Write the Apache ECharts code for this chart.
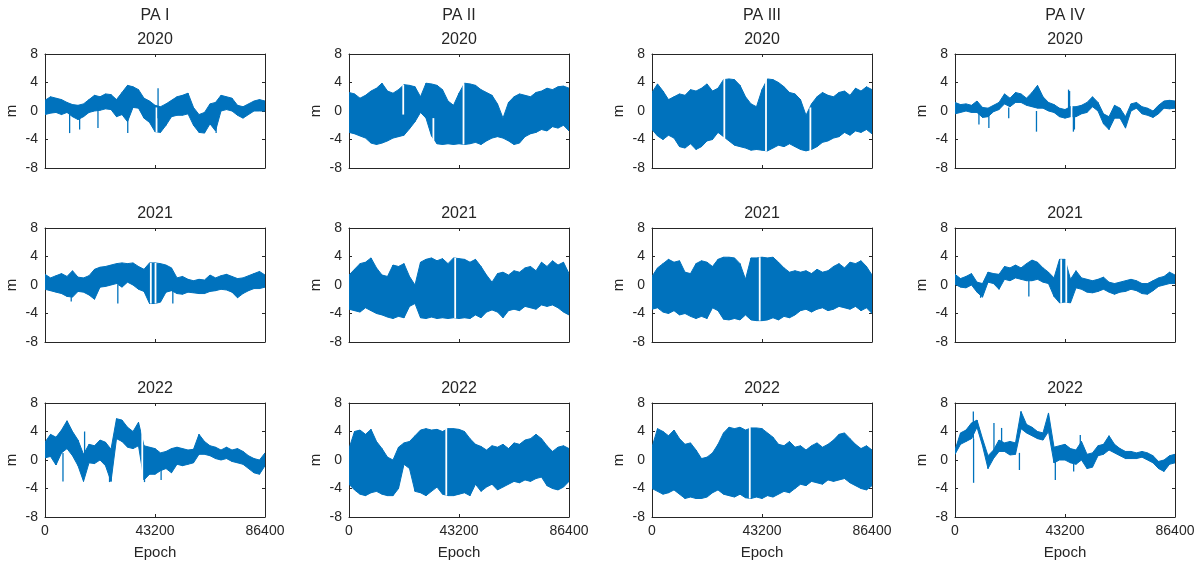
<!DOCTYPE html>
<html>
<head>
<meta charset="utf-8">
<title>PA residuals</title>
<script src="https://cdn.jsdelivr.net/npm/echarts@6/dist/echarts.min.js"></script>
<style>
  html, body { margin: 0; padding: 0; background: #fff; }
  #main { width: 1204px; height: 568px; }
</style>
</head>
<body>
<div id="main"></div>
<script>
// column / row headers and ticks
const paNames = ["PA I", "PA II", "PA III", "PA IV"];
const years = ["2020", "2021", "2022"];
const xTicks = [0, 43200, 86400];
const yTicks = [-8, -4, 0, 4, 8];
const STEP = 2160; // seconds between envelope samples (41 samples over a day)

// upper / lower envelope of the band
const pa1_2020_hi = [1.5,2.0,1.8,1.6,1.2,0.9,0.8,1.0,1.6,2.2, 2.0,2.4,2.3,1.6,2.6,3.6,3.4,3.0,1.8,1.4, 0.8,0.6,1.0,1.5,2.0,2.2,2.5,0.5,-0.5,-0.2, 1.0,1.2,2.2,2.0,1.8,0.8,0.6,1.0,1.4,1.6, 1.4];
const pa1_2020_lo = [-0.5,-0.3,-0.2,-0.5,-0.2,-0.8,-1.2,-0.8,-0.2,0.0, 0.1,0.3,0.2,-0.8,-0.5,-1.5,0.5,0.4,-1.0,-1.6, -2.9,-3.0,-2.0,-0.8,-0.6,-0.6,-0.4,-2.0,-3.0,-3.1, -1.8,-2.8,0.0,0.2,0.0,-0.6,-1.0,-0.5,0.0,0.0, 0.0];
const pa2_2020_hi = [2.6,2.4,1.8,2.2,2.8,3.2,3.9,2.8,2.5,3.0, 3.7,3.6,3.4,2.0,3.9,3.8,3.6,3.0,1.4,0.8, 2.5,3.9,3.8,3.6,3.0,2.6,2.2,1.0,-1.0,1.2, 2.0,2.4,2.2,2.0,2.6,2.8,3.2,3.0,3.4,3.5, 3.2];
const pa2_2020_lo = [-3.0,-3.2,-3.5,-3.8,-4.5,-4.7,-4.5,-4.2,-3.8,-3.6, -3.4,-2.5,-1.5,-0.2,-1.0,-3.5,-4.6,-4.7,-4.6,-4.7, -4.6,-4.7,-4.6,-4.4,-4.7,-4.2,-3.8,-3.6,-3.8,-4.2, -4.7,-4.5,-3.6,-3.2,-3.0,-2.6,-2.8,-2.2,-2.4,-2.0, -2.8];
const pa3_2020_hi = [2.6,3.8,2.8,1.6,2.0,2.4,2.2,3.0,2.8,3.2, 3.8,2.8,3.2,4.4,4.5,4.4,3.6,2.0,1.0,0.6, 3.0,4.5,4.4,4.0,3.4,2.6,2.4,1.6,-0.6,1.0, 2.0,2.6,2.2,2.0,2.6,2.8,2.2,3.2,2.8,3.4, 3.0];
const pa3_2020_lo = [-2.6,-3.5,-4.0,-3.4,-3.8,-5.0,-5.2,-4.6,-5.4,-5.0, -4.2,-4.0,-3.0,-3.6,-4.2,-4.8,-5.0,-5.2,-5.5,-5.4, -5.5,-5.6,-5.2,-4.8,-5.0,-4.6,-5.0,-5.4,-5.6,-5.4, -5.0,-4.4,-4.2,-3.8,-3.6,-3.0,-3.4,-2.8,-3.0,-2.6, -3.2];
const pa4_2020_hi = [1.2,0.9,1.0,0.8,1.4,0.5,0.4,0.8,1.2,2.4, 1.8,2.6,2.4,1.8,2.6,3.6,2.0,1.2,0.9,0.4, 0.2,0.6,0.6,0.8,1.2,2.0,1.2,-0.4,-0.8,0.8, 0.4,-0.8,1.0,1.2,0.6,0.4,0.0,0.8,1.4,1.5, 1.4];
const pa4_2020_lo = [-0.4,-0.2,0.0,-0.2,-0.2,-0.9,-0.8,-0.1,0.2,1.0, 0.6,1.2,1.2,0.8,0.6,0.4,0.4,0.0,-0.2,-0.8, -1.0,-0.8,-0.8,-0.4,-0.2,0.6,0.0,-1.8,-2.6,-1.0, -1.0,-2.4,0.0,0.4,-0.4,-0.6,-0.9,-0.4,0.4,0.3, 0.4];

const pa1_2021_hi = [1.5,1.0,1.3,1.6,1.2,2.0,1.1,1.0,1.3,2.2, 2.5,2.6,2.8,3.0,3.1,3.0,3.1,2.6,2.2,3.1, 3.1,3.0,2.8,2.4,1.0,1.2,0.8,0.6,0.8,0.7, 1.4,1.0,1.3,1.5,1.2,0.9,1.0,1.3,1.6,1.9, 1.4];
const pa1_2021_lo = [-0.6,-0.8,-1.0,-1.2,-1.6,-1.7,-0.9,-1.0,-1.4,-2.0, -0.3,-0.2,0.0,0.2,-0.3,0.4,0.0,-0.6,-0.9,-2.6, -2.6,-2.4,-1.0,-0.8,-1.2,-1.3,-1.0,-1.1,-1.2,-1.2, -0.9,-0.8,-0.6,-0.7,-1.0,-1.8,-1.2,-0.8,-0.5,-0.5, -0.3];
const pa2_2021_hi = [1.4,2.2,3.0,3.2,3.8,2.4,1.4,1.2,2.8,2.6, 3.0,1.2,0.0,3.2,3.6,3.8,3.4,3.7,3.0,3.8, 3.7,3.6,3.2,3.6,2.6,1.4,0.4,1.6,1.8,1.4, 2.0,1.8,2.4,2.6,2.0,3.2,2.6,3.4,2.8,3.2, 1.6];
const pa2_2021_lo = [-3.4,-3.6,-3.8,-3.2,-3.6,-4.0,-4.2,-4.5,-4.7,-4.4, -4.6,-3.0,-2.6,-4.6,-4.7,-4.5,-4.7,-4.6,-4.7,-4.6, -4.7,-4.6,-4.7,-4.2,-4.6,-3.8,-3.5,-3.8,-4.6,-3.6, -3.4,-3.6,-3.0,-3.2,-3.4,-2.8,-3.0,-2.8,-3.2,-3.8, -4.2];
const pa3_2021_hi = [1.2,2.4,3.0,3.6,3.2,3.4,1.8,1.6,3.0,3.4, 3.2,2.6,3.6,3.9,3.9,3.8,3.0,0.8,3.8,3.8, 3.9,3.8,3.9,3.2,2.4,1.8,2.0,1.8,2.0,1.6, 2.2,1.8,2.0,2.6,3.0,2.4,3.2,3.0,3.4,2.6, 1.4];
const pa3_2021_lo = [-3.4,-3.2,-3.8,-4.0,-3.6,-4.2,-4.0,-4.4,-4.7,-4.4, -4.7,-3.2,-3.6,-4.8,-4.9,-4.7,-4.9,-4.2,-4.9,-5.0, -5.0,-4.9,-4.6,-4.9,-4.4,-4.6,-4.2,-3.6,-3.4,-3.8, -3.4,-3.2,-3.6,-3.4,-3.0,-3.2,-3.4,-3.0,-3.6,-3.2, -4.0];
const pa4_2021_hi = [1.5,0.9,1.2,1.6,0.4,0.2,1.8,1.6,1.5,2.6, 2.4,2.8,2.4,3.0,3.5,3.2,2.4,1.8,1.0,3.6, 3.6,0.8,2.0,1.0,0.8,0.6,0.8,1.1,0.4,0.2, 0.4,0.6,0.8,0.6,0.2,0.2,0.6,1.0,1.2,1.8, 1.4];
const pa4_2021_lo = [0.1,-0.3,-0.4,0.0,-1.0,-1.7,0.4,0.2,-0.6,0.8, 0.6,1.0,0.8,0.6,0.6,0.8,0.4,0.2,-1.6,-2.5, -2.4,-2.5,-0.4,-0.6,-1.0,-1.1,-0.9,-0.6,-1.0,-1.3, -1.0,-0.9,-0.6,-0.8,-1.2,-1.3,-0.8,-0.2,0.0,0.2, 0.2];

const pa1_2022_hi = [2.5,3.6,3.2,4.2,5.5,4.0,2.8,0.8,2.2,2.0, 2.8,2.5,1.5,5.8,5.6,4.6,4.0,5.3,2.0,1.8, 1.6,1.0,1.2,1.6,1.8,1.6,1.4,1.5,3.6,2.6, 2.0,1.8,1.4,1.8,1.4,1.6,1.2,0.6,0.2,0.0, 1.0];
const pa1_2022_lo = [0.3,0.5,-0.7,1.0,1.6,0.6,-0.8,-3.0,-0.4,-0.5, 0.0,-0.8,-3.0,3.0,2.6,1.8,1.6,2.0,-2.8,-2.0, -2.0,-1.5,-1.2,-1.8,-0.6,-0.8,-0.6,-0.4,0.8,0.8, 0.6,0.2,0.0,0.2,-0.2,-0.4,-0.6,-1.2,-1.8,-2.0, -0.8];
const pa2_2022_hi = [1.6,4.0,4.2,3.6,4.3,2.6,1.6,0.4,0.0,1.8, 2.4,2.6,3.4,4.2,4.4,4.2,4.3,4.0,4.4,4.4, 4.3,4.0,3.0,2.2,1.9,1.4,2.0,1.8,2.2,1.6, 2.4,2.2,2.8,3.0,3.6,3.0,2.0,1.2,1.8,2.0, 1.6];
const pa2_2022_lo = [-3.4,-4.2,-4.8,-5.0,-4.6,-4.4,-4.8,-5.0,-5.0,-4.0, -0.6,-1.2,-4.4,-4.6,-5.0,-4.4,-3.8,-4.8,-5.0,-5.0, -4.8,-4.6,-5.0,-3.4,-4.4,-3.8,-3.4,-4.2,-3.8,-3.4, -3.0,-3.2,-2.8,-3.0,-2.6,-2.4,-3.6,-4.0,-4.2,-3.8, -3.0];
const pa3_2022_hi = [1.8,4.4,4.0,3.4,4.2,3.0,2.2,2.4,1.4,0.2, 0.4,1.0,2.2,3.8,4.6,4.4,4.6,4.2,4.5,4.5, 4.4,3.8,3.2,2.2,2.0,2.6,1.8,2.0,1.4,2.0, 2.4,1.8,2.2,2.8,3.6,3.8,3.0,2.2,1.6,2.0, 1.4];
const pa3_2022_lo = [-4.0,-4.4,-4.8,-4.6,-4.2,-4.8,-5.4,-5.2,-5.4,-5.4, -5.2,-4.6,-4.2,-4.8,-5.0,-5.2,-4.8,-5.3,-5.4,-5.2, -5.4,-5.0,-5.2,-4.8,-4.4,-4.6,-4.0,-3.4,-3.6,-3.0, -3.2,-3.4,-2.8,-3.0,-2.8,-2.6,-3.2,-3.6,-4.0,-4.2, -3.6];
const pa4_2022_hi = [1.4,3.8,4.2,5.2,5.6,3.0,0.6,1.4,2.8,2.4, 2.6,2.4,6.8,5.0,4.6,4.0,3.8,6.6,1.8,2.0, 2.2,1.6,1.4,2.6,0.8,1.0,2.0,2.2,3.4,2.2, 1.6,1.2,1.2,1.0,1.2,1.0,0.6,-0.2,0.0,0.6, 0.8];
const pa4_2022_lo = [0.8,2.2,2.6,3.0,4.6,2.0,-1.2,0.2,1.2,1.2, 0.7,0.8,4.4,3.8,3.4,3.0,2.8,4.0,-0.4,0.0, 0.0,-0.4,-0.6,0.0,-1.2,-1.0,0.6,0.8,1.4,1.0, 0.6,0.2,0.2,0.2,0.4,0.0,-0.4,-1.2,-1.6,-0.6, -0.4];

// single-epoch outliers: [epoch, from, to]
const pa1_2020_spikes = [[9670,0,-3.1],[13600,-0.5,-2.6],[20800,0.5,-2.4],[32500,0,-3.1],[44400,-1,3.2],[67200,-1,-3.1]];
const pa4_2020_spikes = [[9400,-0.2,-1.9],[13300,-0.5,-2.4],[21100,0.5,-1.0],[32000,0,-2.9],[44600,-0.5,3.0],[45000,-0.5,2.8],[46500,0.4,-2.9],[46900,0,-2.6]];
const pa1_2021_spikes = [[10300,-1,-2.3],[28600,0,-2.6],[50200,-0.5,-2.6]];
const pa4_2021_spikes = [[10050,-0.5,-1.8],[29000,0.6,-1.6]];
const pa1_2022_spikes = [[7060,1,-3.0],[15550,0,4.0],[25350,0,-3.1],[39080,0,-3.1],[45600,-1,-2.8]];
const pa4_2022_spikes = [[7200,3.0,6.8],[7300,3.0,-3.2],[15300,1.0,5.2],[18300,2.0,4.5],[25300,1.0,-1.4],[39400,0.5,-2.8],[46600,-0.5,-1.6],[49200,0.5,3.5]];

// data outages (white gaps): [epoch, from, to]
const pa1_2020_gaps = [[43800,-3.0,0.5]];
const pa2_2020_gaps = [[21300,-0.5,3.7],[33140,-4.5,-1.0],[44970,-4.7,3.9]];
const pa3_2020_gaps = [[28400,-5.0,4.5],[44770,-5.6,4.5],[62200,-5.6,0.5]];
const pa4_2020_gaps = [[45800,-2.9,3.0]];
const pa1_2021_gaps = [[41560,-2.6,3.1],[43400,-2.6,3.1]];
const pa2_2021_gaps = [[41700,-4.7,3.8]];
const pa3_2021_gaps = [[42300,-5.0,3.9]];
const pa4_2021_gaps = [[41700,-2.5,3.6],[43700,-2.5,3.6]];
const pa1_2022_gaps = [[38200,-2.8,5.3]];
const pa2_2022_gaps = [[38200,-5.0,4.4]];
const pa3_2022_gaps = [[38400,-5.4,4.6]];
const pa4_2022_gaps = [];

// row-major: 2020 row, 2021 row, 2022 row
const panels = [
  [pa1_2020_hi, pa1_2020_lo, pa1_2020_spikes, pa1_2020_gaps],
  [pa2_2020_hi, pa2_2020_lo, [], pa2_2020_gaps],
  [pa3_2020_hi, pa3_2020_lo, [], pa3_2020_gaps],
  [pa4_2020_hi, pa4_2020_lo, pa4_2020_spikes, pa4_2020_gaps],
  [pa1_2021_hi, pa1_2021_lo, pa1_2021_spikes, pa1_2021_gaps],
  [pa2_2021_hi, pa2_2021_lo, [], pa2_2021_gaps],
  [pa3_2021_hi, pa3_2021_lo, [], pa3_2021_gaps],
  [pa4_2021_hi, pa4_2021_lo, pa4_2021_spikes, pa4_2021_gaps],
  [pa1_2022_hi, pa1_2022_lo, pa1_2022_spikes, pa1_2022_gaps],
  [pa2_2022_hi, pa2_2022_lo, [], pa2_2022_gaps],
  [pa3_2022_hi, pa3_2022_lo, [], pa3_2022_gaps],
  [pa4_2022_hi, pa4_2022_lo, pa4_2022_spikes, pa4_2022_gaps],
];

const BLUE = "#0072BD";
const INK = "#262626";
const FONT = "'Liberation Sans', Arial, Helvetica, sans-serif";
const colLeft = [45, 349, 652, 955];
const rowTop = [54, 228, 403];
const W = 220, H = 114;

const chart = echarts.init(document.getElementById("main"));

const grids = [], xAxes = [], yAxes = [], series = [], titles = [];

paNames.forEach(function (name, c) {
  titles.push({
    text: name, left: colLeft[c] + W / 2, top: 8, textAlign: "center", padding: 0,
    textStyle: { fontSize: 16, fontWeight: "normal", color: INK, fontFamily: FONT },
  });
});

function bandItem(params, api) {
  const a = api.coord([api.value(0), api.value(2)]);
  const b = api.coord([api.value(3), api.value(5)]);
  const c = api.coord([api.value(3), api.value(4)]);
  const d = api.coord([api.value(0), api.value(1)]);
  return {
    type: "polygon",
    shape: { points: [a, b, c, d] },
    style: { fill: BLUE, stroke: BLUE, lineWidth: 1 },
  };
}

function segItem(color, width) {
  return function (params, api) {
    const p = api.coord([api.value(0), api.value(1)]);
    const q = api.coord([api.value(0), api.value(2)]);
    return {
      type: "line",
      shape: { x1: p[0], y1: p[1], x2: q[0], y2: q[1] },
      style: { stroke: color, lineWidth: width },
    };
  };
}

panels.forEach(function (p, k) {
  const row = Math.floor(k / 4), col = k % 4;
  const bottomRow = row === 2;
  const hi = p[0], lo = p[1], spikes = p[2], gaps = p[3];

  grids.push({ left: colLeft[col], top: rowTop[row], width: W, height: H, containLabel: false, outerBoundsMode: "none" });

  titles.push({
    text: years[row], left: colLeft[col] + W / 2, top: rowTop[row] - 22, textAlign: "center", padding: 0,
    textStyle: { fontSize: 16, fontWeight: "normal", color: INK, fontFamily: FONT },
  });

  const common = {
    gridIndex: k, type: "value",
    axisLine: { show: true, onZero: false, lineStyle: { color: INK, width: 1 } },
    axisTick: { show: true, inside: true, length: 3, lineStyle: { color: INK } },
    splitLine: { show: false },
  };

  xAxes.push(Object.assign({}, common, {
    position: "bottom", min: xTicks[0], max: xTicks[xTicks.length - 1], interval: xTicks[1] - xTicks[0],
    axisLabel: { show: bottomRow, color: INK, fontSize: 14, fontFamily: FONT, margin: 7,
      formatter: function (v) { return String(v); } },
    name: bottomRow ? "Epoch" : "", nameLocation: "middle", nameGap: 28,
    nameTextStyle: { color: INK, fontSize: 15, fontFamily: FONT },
  }));
  xAxes.push(Object.assign({}, common, {
    position: "top", min: xTicks[0], max: xTicks[xTicks.length - 1], interval: xTicks[1] - xTicks[0],
    axisLabel: { show: false },
  }));
  yAxes.push(Object.assign({}, common, {
    position: "left", min: yTicks[0], max: yTicks[yTicks.length - 1], interval: yTicks[1] - yTicks[0],
    axisLabel: { show: true, color: INK, fontSize: 14, fontFamily: FONT, margin: 7,
      formatter: function (v) { return String(v); } },
    name: "m", nameLocation: "middle", nameGap: 26, nameRotate: 90,
    nameTextStyle: { color: INK, fontSize: 15, fontFamily: FONT },
  }));
  yAxes.push(Object.assign({}, common, {
    position: "right", min: yTicks[0], max: yTicks[yTicks.length - 1], interval: yTicks[1] - yTicks[0],
    axisLabel: { show: false },
  }));

  // band table: each item spans one envelope sample to the next
  const band = [];
  for (let i = 0; i < hi.length - 1; i++) {
    band.push([i * STEP, lo[i], hi[i], (i + 1) * STEP, lo[i + 1], hi[i + 1]]);
  }

  series.push({
    type: "custom", xAxisIndex: 2 * k, yAxisIndex: 2 * k, clip: true, silent: true,
    renderItem: bandItem, data: band,
    encode: { x: [0, 3], y: [1, 2, 4, 5] }, z: 2, animation: false,
  });
  series.push({
    type: "custom", xAxisIndex: 2 * k, yAxisIndex: 2 * k, clip: true, silent: true,
    renderItem: segItem("#ffffff", 1.8), data: gaps,
    encode: { x: 0, y: [1, 2] }, z: 3, animation: false,
  });
  series.push({
    type: "custom", xAxisIndex: 2 * k, yAxisIndex: 2 * k, clip: true, silent: true,
    renderItem: segItem(BLUE, 1.3), data: spikes,
    encode: { x: 0, y: [1, 2] }, z: 4, animation: false,
  });
});

chart.setOption({
  backgroundColor: "#ffffff",
  animation: false,
  title: titles,
  grid: grids,
  xAxis: xAxes,
  yAxis: yAxes,
  series: series,
});
</script>
</body>
</html>
